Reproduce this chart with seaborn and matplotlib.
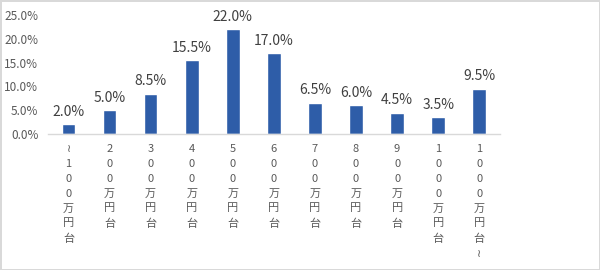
import matplotlib
matplotlib.use("Agg")
import matplotlib.pyplot as plt
import seaborn as sns
import pandas as pd
from matplotlib.ticker import FuncFormatter, MultipleLocator

categories = ["～100万円台", "200万円台", "300万円台", "400万円台", "500万円台",
              "600万円台", "700万円台", "800万円台", "900万円台", "1000万円台", "1000万円台～"]
values = [2.0, 5.0, 8.5, 15.5, 22.0, 17.0, 6.5, 6.0, 4.5, 3.5, 9.5]

sns.set_style("white")
plt.rcParams['font.family'] = ['Noto Sans CJK JP', 'DejaVu Sans']

df = pd.DataFrame({"cat": categories, "val": values})

fig = plt.figure(figsize=(6, 2.7), dpi=100)
ax = fig.add_axes([0.08, 0.504, 0.753, 0.44])
sns.barplot(data=df, x="cat", y="val", color="#2E5DA8", width=0.33, ax=ax,
            saturation=1)

ax.set_xlim(-0.5, len(categories) - 0.5)
ax.set_ylim(0, 25)
ax.yaxis.set_major_locator(MultipleLocator(5))
ax.yaxis.set_major_formatter(FuncFormatter(lambda v, p: f"{v:.1f}%"))
ax.tick_params(axis='y', labelsize=8.5, labelcolor="#595959", length=0, pad=7)
ax.tick_params(axis='x', length=0, pad=7)

def vertical(s):
    return "\n".join("≀" if c == "～" else c for c in s)

ax.set_xticks(range(len(categories)))
ax.set_xticklabels([vertical(c) for c in categories], fontsize=8, color="#595959",
                   linespacing=1.62, va='top')
ax.set_xlabel("")
ax.set_ylabel("")

for s in ["top", "right", "left"]:
    ax.spines[s].set_visible(False)
ax.spines["bottom"].set_color("#D9D9D9")
ax.spines["bottom"].set_linewidth(1)

for i, v in enumerate(values):
    ax.annotate(f"{v:.1f}%", xy=(i, v), xytext=(0, 4), textcoords="offset points",
                ha="center", va="bottom", fontsize=10, color="#404040")

fig.patch.set_edgecolor("#D9D9D9")
fig.patch.set_linewidth(2)

fig.savefig("out.png", dpi=100, edgecolor=fig.get_edgecolor())
